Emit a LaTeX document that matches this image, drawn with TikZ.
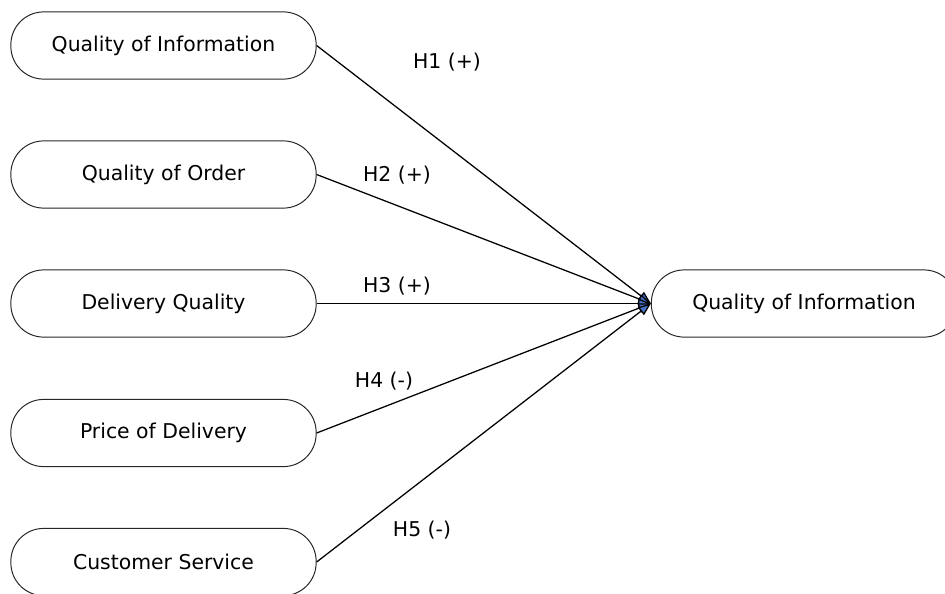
\documentclass[tikz,border=0pt]{standalone}
\usepackage{fontspec}
\setmainfont{DejaVu Sans}
\usetikzlibrary{arrows.meta}

\definecolor{tipblue}{RGB}{68,114,196}

\tikzset{
  factor/.style={draw=black!85,line width=0.7pt,rectangle,rounded corners=0.82cm,
    minimum width=7.63cm,minimum height=1.68cm,inner sep=0pt,
    font=\fontsize{14.5}{17}\selectfont},
  link/.style={line width=0.9pt,-{Triangle[length=9pt,width=7pt,fill=tipblue]}},
  hyp/.style={font=\fontsize{14.5}{17}\selectfont,inner sep=0pt}
}

\begin{document}
\begin{tikzpicture}[x=0.025cm,y=-0.025cm]
\useasboundingbox (0,0) rectangle (945,593);
\clip (0,0) rectangle (945,593);

% factors on the left
\node[factor] (qinfo)  at (163.5,45.5)  {Quality of Information};
\node[factor] (qorder) at (163.5,174.5) {Quality of Order};
\node[factor] (dqual)  at (163.5,303.5) {Delivery Quality};
\node[factor] (price)  at (163.5,433)   {Price of Delivery};
\node[factor] (cserv)  at (163.5,562)   {Customer Service};

% outcome
\node[factor] (result) at (804,303.5) {Quality of Information};

% hypotheses
\draw[link] (qinfo.east)  -- (result.west);
\draw[link] (qorder.east) -- (result.west);
\draw[link] (dqual.east)  -- (result.west);
\draw[link] (price.east)  -- (result.west);
\draw[link] (cserv.east)  -- (result.west);

\node[hyp] (h1) at (447,62)  {H1 (+)};
\node[hyp] (h2) at (397,175) {H2 (+)};
\node[hyp] (h3) at (397,286) {H3 (+)};
\node[hyp] (h4) at (384,381) {H4 (-)};
\node[hyp] (h5) at (422,530) {H5 (-)};
\end{tikzpicture}
\end{document}
